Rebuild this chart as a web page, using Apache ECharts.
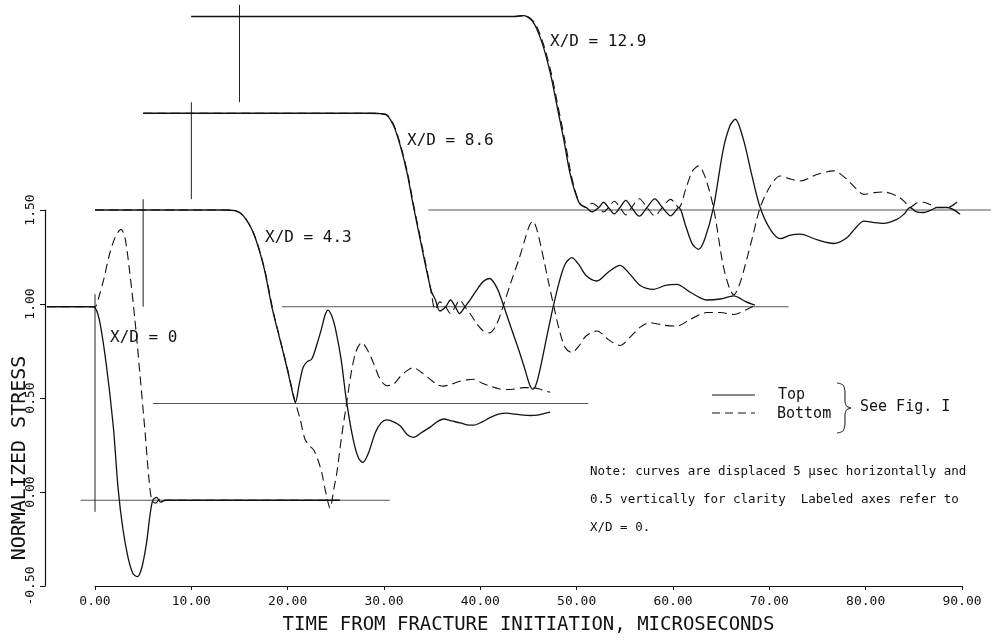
<!DOCTYPE html>
<html>
<head>
<meta charset="utf-8">
<title>Normalized stress</title>
<script src="https://cdn.jsdelivr.net/npm/echarts@6/dist/echarts.min.js"></script>
<style>
html, body { margin: 0; padding: 0; background: #fff; }
#main { width: 1000px; height: 640px; }
</style>
</head>
<body>
<div id="main"></div>
<script>
// axes
var xTicks = [0, 10, 20, 30, 40, 50, 60, 70, 80, 90];
var yTicks = [-0.5, 0, 0.5, 1.0, 1.5];

// X/D = 0 (no offset)
var top0 = [[-5,1.0],[-0.5,1.0],[0,0.995],[0.5,0.92],[1.2,0.69],[1.9,0.38],[2.4,0.06],[2.9,-0.15],[3.45,-0.3],[3.95,-0.38],[4.4,-0.395],[4.85,-0.35],[5.35,-0.22],[5.7,-0.08],[6.0,0.0],[6.4,0.015],[6.8,-0.01],[7.3,0.0],[25.4,0.0]];
var bottom0 = [[-5,1.0],[-0.5,1.0],[0,1.0],[0.4,1.05],[0.9,1.14],[1.5,1.27],[2.1,1.36],[2.7,1.4],[3.1,1.36],[3.6,1.18],[4.15,0.93],[4.65,0.66],[5.2,0.35],[5.6,0.11],[5.9,0.0],[6.3,-0.015],[6.8,0.01],[7.3,0.0],[25.4,0.0]];

// X/D = 4.3 (shifted 5 usec, 0.5)
var top43 = [[0,1.5],[13.5,1.5],[14.5,1.497],[15.4,1.47],[16.45,1.38],[17.5,1.21],[18.4,0.99],[19.2,0.83],[19.9,0.69],[20.4,0.58],[20.8,0.505],[21.2,0.6],[21.6,0.686],[22.0,0.715],[22.5,0.73],[23.0,0.8],[23.5,0.884],[23.9,0.96],[24.2,0.983],[24.6,0.95],[24.9,0.9],[25.3,0.8],[25.6,0.71],[26.13,0.505],[26.8,0.315],[27.34,0.22],[27.8,0.195],[28.4,0.246],[29.1,0.35],[29.7,0.4],[30.3,0.415],[31.0,0.405],[31.7,0.384],[32.4,0.34],[33.05,0.325],[33.9,0.35],[34.8,0.378],[35.5,0.405],[36.2,0.42],[37.0,0.41],[37.9,0.4],[38.6,0.39],[39.3,0.388],[40.2,0.405],[41.0,0.427],[41.9,0.445],[42.75,0.45],[43.6,0.445],[44.5,0.44],[45.2,0.438],[45.9,0.44],[46.6,0.448],[47.25,0.455]];
var bottom43 = [[0,1.5],[13.5,1.5],[14.6,1.496],[15.5,1.465],[16.55,1.37],[17.6,1.195],[18.5,0.975],[19.3,0.815],[20.0,0.675],[20.5,0.565],[20.8,0.505],[21.3,0.419],[21.8,0.315],[22.3,0.28],[22.7,0.26],[23.2,0.2],[23.55,0.14],[24.0,0.03],[24.4,-0.04],[24.8,0.06],[25.1,0.14],[25.6,0.33],[26.13,0.505],[26.6,0.66],[27.1,0.77],[27.7,0.815],[28.3,0.775],[28.9,0.71],[29.6,0.625],[30.3,0.592],[31.0,0.6],[31.7,0.64],[32.4,0.67],[33.05,0.685],[33.9,0.66],[34.8,0.625],[35.5,0.598],[36.2,0.59],[37.0,0.6],[37.9,0.615],[38.6,0.622],[39.3,0.625],[40.2,0.605],[41.0,0.59],[42.0,0.575],[42.75,0.572],[43.6,0.575],[44.5,0.582],[45.5,0.582],[46.4,0.57],[47.25,0.558]];

// X/D = 8.6 (shifted 10 usec, 1.0)
var top86 = [[5,2.0],[28.5,2.0],[29.6,1.998],[30.3,1.99],[31.0,1.935],[31.7,1.83],[32.4,1.69],[33.05,1.52],[33.75,1.35],[34.45,1.18],[34.95,1.075],[35.3,1.04],[35.8,0.978],[36.4,1.0],[36.9,1.035],[37.4,1.0],[37.85,0.965],[38.4,1.0],[39.0,1.04],[39.6,1.085],[40.3,1.13],[40.95,1.146],[41.7,1.1],[42.4,1.008],[43.2,0.89],[44.0,0.775],[44.7,0.665],[45.1,0.6],[45.45,0.574],[45.8,0.6],[46.3,0.7],[47.0,0.87],[47.6,1.008],[48.2,1.13],[48.8,1.22],[49.5,1.254],[50.2,1.22],[51.0,1.16],[52.1,1.133],[53.3,1.18],[54.5,1.214],[55.5,1.17],[56.6,1.11],[58.0,1.09],[59.2,1.11],[60.4,1.116],[61.8,1.075],[63.5,1.035],[64.9,1.04],[66.3,1.056],[67.6,1.025],[68.5,1.008]];
var bottom86 = [[5,2.0],[28.5,2.0],[29.6,1.998],[30.35,1.99],[31.05,1.935],[31.75,1.83],[32.45,1.69],[33.1,1.52],[33.8,1.35],[34.5,1.18],[34.95,1.06],[35.3,0.985],[35.8,1.025],[36.4,1.0],[36.9,0.965],[37.4,1.0],[37.85,1.035],[38.4,1.0],[39.0,0.96],[39.6,0.915],[40.3,0.875],[40.95,0.865],[41.7,0.91],[42.4,1.008],[43.2,1.13],[44.0,1.245],[44.7,1.36],[45.1,1.42],[45.45,1.443],[45.8,1.41],[46.3,1.31],[47.0,1.145],[47.6,1.008],[48.2,0.88],[48.8,0.79],[49.5,0.763],[50.2,0.795],[51.0,0.85],[52.1,0.875],[53.3,0.83],[54.5,0.8],[55.5,0.84],[56.6,0.895],[57.6,0.918],[59.0,0.905],[60.4,0.9],[61.8,0.935],[63.5,0.97],[64.9,0.97],[66.3,0.96],[67.6,0.985],[68.5,1.008]];

// X/D = 12.9 (shifted 15 usec, 1.5)
var top129 = [[10,2.5],[43.5,2.5],[44.5,2.505],[45.5,2.47],[46.4,2.365],[47.25,2.21],[47.95,2.04],[48.65,1.866],[49.3,1.69],[49.85,1.59],[50.35,1.53],[51.0,1.513],[51.6,1.49],[52.3,1.513],[52.8,1.54],[53.3,1.513],[53.9,1.48],[54.5,1.513],[55.1,1.55],[55.7,1.513],[56.5,1.468],[57.3,1.513],[58.1,1.557],[58.9,1.513],[59.75,1.47],[60.6,1.513],[61.3,1.42],[62.0,1.325],[62.65,1.297],[63.3,1.35],[64.2,1.513],[65.2,1.81],[65.9,1.934],[66.46,1.969],[67.3,1.866],[68.2,1.676],[69.05,1.513],[70.1,1.4],[71.13,1.352],[72.2,1.37],[73.2,1.375],[75.0,1.345],[76.67,1.327],[78.05,1.357],[79.0,1.41],[79.8,1.443],[80.9,1.435],[81.86,1.431],[83.24,1.452],[84.0,1.48],[84.6,1.513],[85.3,1.49],[86.0,1.487],[86.8,1.5],[87.4,1.513],[88.5,1.513],[89.8,1.478]];
var bottom129 = [[10,2.5],[43.5,2.5],[44.6,2.505],[45.6,2.47],[46.5,2.365],[47.35,2.21],[48.05,2.04],[48.75,1.866],[49.4,1.69],[49.9,1.59],[50.4,1.53],[51.0,1.513],[51.6,1.535],[52.3,1.513],[52.8,1.49],[53.3,1.513],[53.9,1.545],[54.5,1.513],[55.1,1.475],[55.7,1.513],[56.5,1.558],[57.3,1.513],[58.1,1.47],[58.9,1.513],[59.75,1.555],[60.6,1.513],[61.3,1.605],[62.0,1.7],[62.65,1.728],[63.3,1.675],[64.2,1.513],[65.2,1.215],[65.9,1.09],[66.3,1.062],[67.0,1.13],[68.2,1.35],[69.05,1.513],[70.1,1.624],[71.13,1.676],[72.2,1.66],[73.2,1.65],[75.0,1.685],[76.67,1.702],[78.05,1.659],[79.0,1.61],[79.8,1.581],[80.9,1.59],[81.86,1.593],[83.24,1.573],[84.0,1.545],[84.6,1.513],[85.3,1.536],[86.0,1.54],[86.8,1.525],[87.4,1.513],[88.5,1.513],[89.8,1.555]];

// final levels of each displaced curve
var base0 = [[-1.5,0],[30.6,0]];
var base43 = [[6,0.5],[51.2,0.5]];
var base86 = [[19.4,1.0],[72,1.0]];
var base129 = [[34.6,1.5],[93,1.5]];

// short vertical markers at the start of each record
var mark0 = [[0,-0.06],[0,1.065]];
var mark43 = [[5,1.0],[5,1.556]];
var mark86 = [[10,1.556],[10,2.057]];
var mark129 = [[15,2.057],[15,2.56]];

var mono = 'DejaVu Sans Mono';

function curve(name, data, dashed) {
	return {
		name: name,
		type: 'line',
		data: data,
		symbol: 'none',
		smooth: 0.3,
		clip: false,
		silent: true,
		z: dashed ? 3 : 4,
		lineStyle: {
			color: '#111',
			width: dashed ? 1.1 : 1.3,
			type: dashed ? [9, 5] : 'solid'
		}
	};
}

function plain(name, data, color, width) {
	return {
		name: name,
		type: 'line',
		data: data,
		symbol: 'none',
		clip: false,
		silent: true,
		z: 2,
		lineStyle: { color: color, width: width }
	};
}

var myChart = echarts.init(document.getElementById('main'));

// grid 0 holds the curves (wide range, hidden axes, same scale as grid 1)
// grid 1 only draws the labelled axes
var option = {
	animation: false,
	backgroundColor: '#fff',
	grid: [
		{ left: 42.02, right: 4.28, top: 1.02, bottom: 33.325 },
		{ left: 95, right: 38, top: 210, bottom: 43 }
	],
	xAxis: [
		{ type: 'value', gridIndex: 0, min: -5.5, max: 93.5, show: false },
		{
			type: 'value',
			gridIndex: 1,
			min: xTicks[0],
			max: xTicks[xTicks.length - 1],
			interval: 10,
			splitLine: { show: false },
			axisLine: { onZero: false, lineStyle: { color: '#111', width: 1.2 } },
			axisTick: { length: 4, lineStyle: { color: '#111' } },
			axisLabel: {
				color: '#111', fontFamily: mono, fontSize: 13, margin: 9,
				formatter: function (v) { return v.toFixed(2); }
			},
			name: 'TIME FROM FRACTURE INITIATION, MICROSECONDS',
			nameLocation: 'middle',
			nameGap: 30,
			nameTextStyle: { color: '#111', fontFamily: mono, fontSize: 19 }
		}
	],
	yAxis: [
		{ type: 'value', gridIndex: 0, min: -0.55, max: 2.58, show: false },
		{
			type: 'value',
			gridIndex: 1,
			min: yTicks[0],
			max: yTicks[yTicks.length - 1],
			interval: 0.5,
			offset: 50,
			splitLine: { show: false },
			axisLine: { show: true, onZero: false, lineStyle: { color: '#111', width: 1.2 } },
			axisTick: { show: true, length: 5, lineStyle: { color: '#111' } },
			axisLabel: {
				color: '#111', fontFamily: mono, fontSize: 13, margin: 8, rotate: 90,
				align: 'center', verticalAlign: 'bottom',
				formatter: function (v) { return v.toFixed(2); }
			}
		}
	],
	graphic: [
		{ type: 'text', x: 20, y: 458, rotation: Math.PI / 2,
		  style: { text: 'NORMALIZED STRESS', fill: '#111', font: '20px ' + mono, align: 'center', verticalAlign: 'middle' } },
		{ type: 'text', x: 110, y: 338, style: { text: 'X/D = 0', fill: '#111', font: '16px ' + mono, verticalAlign: 'middle' } },
		{ type: 'text', x: 265, y: 238, style: { text: 'X/D = 4.3', fill: '#111', font: '16px ' + mono, verticalAlign: 'middle' } },
		{ type: 'text', x: 407, y: 141, style: { text: 'X/D = 8.6', fill: '#111', font: '16px ' + mono, verticalAlign: 'middle' } },
		{ type: 'text', x: 550, y: 42, style: { text: 'X/D = 12.9', fill: '#111', font: '16px ' + mono, verticalAlign: 'middle' } },
		// legend
		{ type: 'line', shape: { x1: 712, y1: 395, x2: 755, y2: 395 }, style: { stroke: '#111', lineWidth: 1 } },
		{ type: 'line', shape: { x1: 712, y1: 413, x2: 755, y2: 413 }, style: { stroke: '#111', lineWidth: 1, lineDash: [8, 5] } },
		{ type: 'text', x: 778, y: 395, style: { text: 'Top', fill: '#111', font: '15px ' + mono, verticalAlign: 'middle' } },
		{ type: 'text', x: 777, y: 414, style: { text: 'Bottom', fill: '#111', font: '15px ' + mono, verticalAlign: 'middle' } },
		{ type: 'polyline', shape: { smooth: 0.3, points: [[837,383],[843,385],[845,392],[845,402],[847,406.5],[851,408],[847,409.5],[845,414],[845,424],[843,431],[837,433]] },
		  style: { fill: 'none', stroke: '#111', lineWidth: 1 } },
		{ type: 'text', x: 860, y: 407, style: { text: 'See Fig. I', fill: '#111', font: '15px ' + mono, verticalAlign: 'middle' } },
		// note
		{ type: 'text', x: 590, y: 472, style: { text: 'Note: curves are displaced 5 \u03bcsec horizontally and', fill: '#111', font: '12.5px ' + mono, verticalAlign: 'middle' } },
		{ type: 'text', x: 590, y: 500, style: { text: '0.5 vertically for clarity  Labeled axes refer to', fill: '#111', font: '12.5px ' + mono, verticalAlign: 'middle' } },
		{ type: 'text', x: 590, y: 528, style: { text: 'X/D = 0.', fill: '#111', font: '12.5px ' + mono, verticalAlign: 'middle' } }
	],
	series: [
		plain('base0', base0, '#555', 1.1),
		plain('base43', base43, '#555', 1.1),
		plain('base86', base86, '#555', 1.1),
		plain('base129', base129, '#555', 1.1),
		plain('mark0', mark0, '#222', 1),
		plain('mark43', mark43, '#222', 1),
		plain('mark86', mark86, '#222', 1),
		plain('mark129', mark129, '#222', 1),
		curve('Top', top0, false),
		curve('Bottom', bottom0, true),
		curve('Top', top43, false),
		curve('Bottom', bottom43, true),
		curve('Top', top86, false),
		curve('Bottom', bottom86, true),
		curve('Top', top129, false),
		curve('Bottom', bottom129, true)
	]
};

myChart.setOption(option);
</script>
</body>
</html>
